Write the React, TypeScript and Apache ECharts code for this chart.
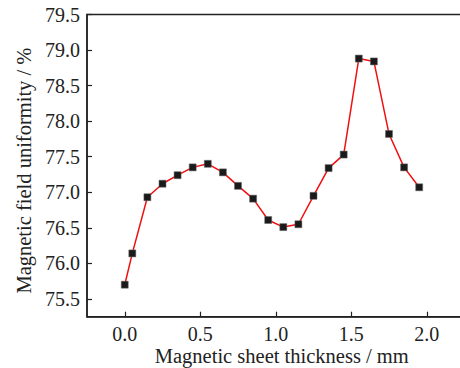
import React, { useEffect, useRef } from "react";
import * as echarts from "echarts";

const thickness = [0, 0.05, 0.15, 0.25, 0.35, 0.45, 0.55, 0.65, 0.75, 0.85, 0.95, 1.05, 1.15, 1.25, 1.35, 1.45, 1.55, 1.65, 1.75, 1.85, 1.95];
const uniformity = [75.7, 76.14, 76.93, 77.12, 77.24, 77.35, 77.4, 77.28, 77.09, 76.91, 76.61, 76.51, 76.55, 76.95, 77.34, 77.53, 78.88, 78.84, 77.82, 77.35, 77.07];
const xTicks = [0, 0.5, 1.0, 1.5, 2.0];
const yTicks = [75.5, 76.0, 76.5, 77.0, 77.5, 78.0, 78.5, 79.0, 79.5];

const font = "Liberation Serif";

const halfStep = (v: number) => {
  const r = Math.round(v * 2);
  return Math.abs(v * 2 - r) < 1e-6 ? v.toFixed(1) : "";
};

export default function App() {
  const ref = useRef<HTMLDivElement>(null);
  useEffect(() => {
    const chart = echarts.init(ref.current!, null, { renderer: "svg" });
    chart.setOption({
      animation: false,
      backgroundColor: "#fff",
      textStyle: { fontFamily: font },
      grid: { left: 87, top: 14.5, right: -4.5, bottom: 51.3, outerBoundsMode: "none", containLabel: false, show: true, borderColor: "#222", borderWidth: 1.5, backgroundColor: "transparent" },
      xAxis: {
        type: "value",
        min: -0.25,
        max: 2.25,
        interval: 0.25,
        name: "Magnetic sheet thickness / mm",
        nameLocation: "middle",
        nameGap: 29,
        nameMoveOverlap: false,
        nameTextStyle: { fontFamily: font, fontSize: 20.5, color: "#222", padding: [0, 0, 0, 12] },
        axisLine: { onZero: false, lineStyle: { color: "#222", width: 1.5 } },
        axisTick: { inside: true, length: 5, customValues: xTicks, lineStyle: { color: "#222", width: 1.2 } },
        axisLabel: { fontFamily: font, fontSize: 20, color: "#222", margin: 7, formatter: halfStep, showMinLabel: true, showMaxLabel: true, hideOverlap: false },
        splitLine: { show: false },
      },
      yAxis: {
        type: "value",
        min: 75.25,
        max: 79.5,
        interval: 0.25,
        name: "Magnetic field uniformity / %",
        nameLocation: "middle",
        nameGap: 53,
        nameMoveOverlap: false,
        nameTextStyle: { fontFamily: font, fontSize: 20.5, color: "#222", padding: [0, 10, 0, 0] },
        axisLine: { onZero: false, lineStyle: { color: "#222", width: 1.5 } },
        axisTick: { inside: true, length: 5, customValues: yTicks, lineStyle: { color: "#222", width: 1.2 } },
        axisLabel: { fontFamily: font, fontSize: 20, color: "#222", margin: 7, formatter: halfStep, showMinLabel: true, showMaxLabel: true, hideOverlap: false },
        splitLine: { show: false },
      },
      series: [
        {
          type: "line",
          data: thickness.map((x, i) => [x, uniformity[i]]),
          symbol: "rect",
          symbolSize: 7,
          itemStyle: { color: "#1a1a1a", borderColor: "#666", borderWidth: 0.5 },
          lineStyle: { color: "#f01010", width: 1.5 },
        },
      ],
    });
    return () => chart.dispose();
  }, []);
  return <div ref={ref} style={{ width: 460, height: 368, position: "absolute", left: 0, top: 0 }} />;
}
